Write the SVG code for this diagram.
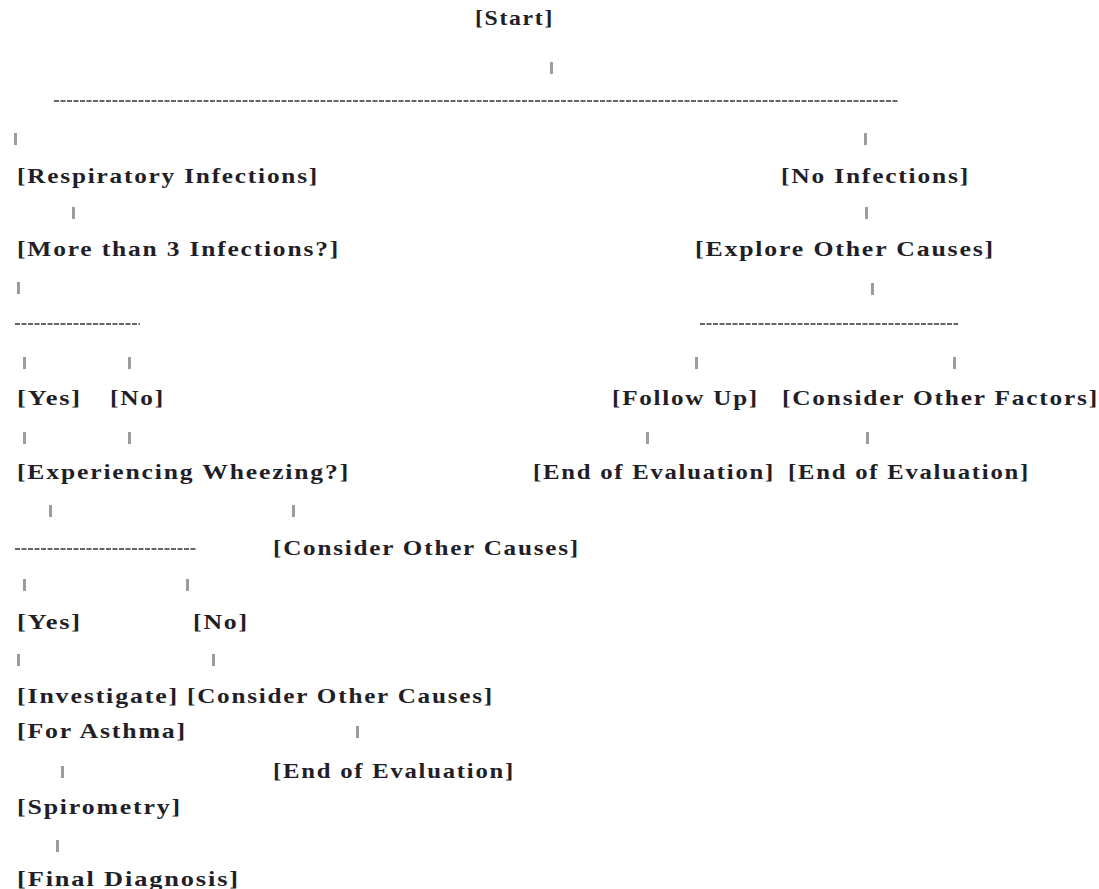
<svg xmlns="http://www.w3.org/2000/svg" width="1099" height="889" viewBox="0 0 1099 889">
<style>
text{font-family:"Liberation Serif","Times New Roman",serif;font-weight:bold;font-size:21px;letter-spacing:1.5px;fill:#221e28}
.bar{fill:#9c9ca0}
.dash{stroke:#333333;stroke-width:1.5;stroke-dasharray:5 1.5;fill:none}
</style>
<rect width="1099" height="889" fill="#ffffff"/>
<g id="connectors">
<rect class="bar" x="550" y="62" width="3" height="12"/>
<line class="dash" x1="54" y1="101" x2="898" y2="101"/>
<rect class="bar" x="14" y="133" width="3" height="12"/>
<rect class="bar" x="864" y="133" width="3" height="12"/>
<rect class="bar" x="72" y="207" width="3" height="12"/>
<rect class="bar" x="865" y="207" width="3" height="12"/>
<rect class="bar" x="17" y="282" width="3" height="12"/>
<rect class="bar" x="871" y="283" width="3" height="12"/>
<line class="dash" x1="15" y1="324" x2="140" y2="324"/>
<line class="dash" x1="700" y1="324" x2="958" y2="324"/>
<rect class="bar" x="23" y="357" width="3" height="12"/>
<rect class="bar" x="128" y="357" width="3" height="12"/>
<rect class="bar" x="695" y="357" width="3" height="12"/>
<rect class="bar" x="953" y="357" width="3" height="12"/>
<rect class="bar" x="23" y="432" width="3" height="12"/>
<rect class="bar" x="128" y="432" width="3" height="12"/>
<rect class="bar" x="646" y="432" width="3" height="12"/>
<rect class="bar" x="866" y="432" width="3" height="12"/>
<rect class="bar" x="49" y="505" width="3" height="12"/>
<rect class="bar" x="292" y="505" width="3" height="12"/>
<line class="dash" x1="15" y1="549" x2="197" y2="549"/>
<rect class="bar" x="23" y="579" width="3" height="12"/>
<rect class="bar" x="186" y="579" width="3" height="12"/>
<rect class="bar" x="17" y="654" width="3" height="12"/>
<rect class="bar" x="212" y="654" width="3" height="12"/>
<rect class="bar" x="356" y="726" width="3" height="12"/>
<rect class="bar" x="61" y="766" width="3" height="12"/>
<rect class="bar" x="56" y="840" width="3" height="12"/>
</g>
<g id="n-start"><text x="475" y="25" textLength="79" lengthAdjust="spacingAndGlyphs">[Start]</text></g>
<g id="n-resp"><text x="17" y="183" textLength="302" lengthAdjust="spacingAndGlyphs">[Respiratory Infections]</text></g>
<g id="n-noinf"><text x="781" y="183" textLength="189" lengthAdjust="spacingAndGlyphs">[No Infections]</text></g>
<g id="n-more3"><text x="17" y="256" textLength="323" lengthAdjust="spacingAndGlyphs">[More than 3 Infections?]</text></g>
<g id="n-explore"><text x="695" y="256" textLength="300" lengthAdjust="spacingAndGlyphs">[Explore Other Causes]</text></g>
<g id="n-yes1"><text x="17" y="405" textLength="65" lengthAdjust="spacingAndGlyphs">[Yes]</text></g>
<g id="n-no1"><text x="110" y="405" textLength="55" lengthAdjust="spacingAndGlyphs">[No]</text></g>
<g id="n-follow"><text x="612" y="405" textLength="147" lengthAdjust="spacingAndGlyphs">[Follow Up]</text></g>
<g id="n-factors"><text x="782" y="405" textLength="317" lengthAdjust="spacingAndGlyphs">[Consider Other Factors]</text></g>
<g id="n-wheeze"><text x="17" y="479" textLength="333" lengthAdjust="spacingAndGlyphs">[Experiencing Wheezing?]</text></g>
<g id="n-end1"><text x="533" y="479" textLength="242" lengthAdjust="spacingAndGlyphs">[End of Evaluation]</text></g>
<g id="n-end2"><text x="788" y="479" textLength="242" lengthAdjust="spacingAndGlyphs">[End of Evaluation]</text></g>
<g id="n-other1"><text x="273" y="555" textLength="307" lengthAdjust="spacingAndGlyphs">[Consider Other Causes]</text></g>
<g id="n-yes2"><text x="17" y="629" textLength="65" lengthAdjust="spacingAndGlyphs">[Yes]</text></g>
<g id="n-no2"><text x="193" y="629" textLength="56" lengthAdjust="spacingAndGlyphs">[No]</text></g>
<g id="n-invest"><text x="17" y="703" textLength="162" lengthAdjust="spacingAndGlyphs">[Investigate]</text></g>
<g id="n-other2"><text x="187" y="703" textLength="307" lengthAdjust="spacingAndGlyphs">[Consider Other Causes]</text></g>
<g id="n-asthma"><text x="17" y="738" textLength="170" lengthAdjust="spacingAndGlyphs">[For Asthma]</text></g>
<g id="n-end3"><text x="273" y="778" textLength="242" lengthAdjust="spacingAndGlyphs">[End of Evaluation]</text></g>
<g id="n-spiro"><text x="17" y="814" textLength="165" lengthAdjust="spacingAndGlyphs">[Spirometry]</text></g>
<g id="n-final"><text x="17" y="886" textLength="223" lengthAdjust="spacingAndGlyphs">[Final Diagnosis]</text></g>
</svg>
